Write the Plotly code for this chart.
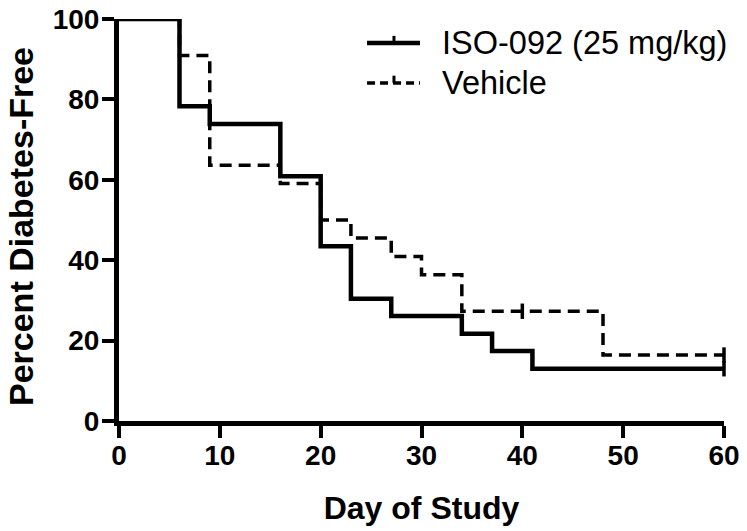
import plotly.graph_objects as go

# ---- data ----
iso_days = [0, 6, 9, 16, 20, 23, 27, 34, 37, 41, 60]
iso_surv = [100, 78.3, 73.9, 60.9, 43.5, 30.4, 26.1, 21.7, 17.4, 13.0, 13.0]
iso_cens_days = [60]
iso_cens_surv = [13.0]

veh_days = [0, 6, 9, 16, 20, 23, 27, 30, 34, 48, 60]
veh_surv = [100, 90.9, 63.6, 59.1, 50.0, 45.5, 40.9, 36.4, 27.3, 16.4, 16.4]
veh_cens_days = [40, 60]
veh_cens_surv = [27.3, 16.4]

x_ticks = [0, 10, 20, 30, 40, 50, 60]
y_ticks = [0, 20, 40, 60, 80, 100]
series_names = ["ISO-092 (25 mg/kg)", "Vehicle"]
x_title = "Day of Study"
y_title = "Percent Diabetes-Free"

FONT = "Liberation Sans, Arial, sans-serif"

fig = go.Figure()
fig.add_trace(go.Scatter(x=iso_days, y=iso_surv, mode="lines", line_shape="hv",
                         line=dict(color="black", width=4.5), cliponaxis=False,
                         showlegend=False, name=series_names[0]))
fig.add_trace(go.Scatter(x=veh_days, y=veh_surv, mode="lines", line_shape="hv",
                         line=dict(color="black", width=3.5, dash="12px,7px"), cliponaxis=False,
                         showlegend=False, name=series_names[1]))
fig.add_trace(go.Scatter(x=iso_cens_days, y=iso_cens_surv, mode="markers", cliponaxis=False,
                         marker=dict(symbol="line-ns", size=11, line=dict(color="black", width=3.5)),
                         showlegend=False))
fig.add_trace(go.Scatter(x=veh_cens_days, y=veh_cens_surv, mode="markers", cliponaxis=False,
                         marker=dict(symbol="line-ns", size=11, line=dict(color="black", width=3.5)),
                         showlegend=False))

# custom legend (paper coords)
legend_rows = [(0.940, "solid", 4.5), (0.841, "8px,5px", 3.5)]
for (yy, dash, w), name in zip(legend_rows, series_names):
    fig.add_shape(type="line", xref="paper", yref="paper", x0=0.410, x1=0.4975, y0=yy, y1=yy,
                  line=dict(color="black", width=w, dash=dash))
    fig.add_shape(type="line", xref="paper", yref="paper", x0=0.4545, x1=0.4545, y0=yy, y1=yy + 0.018,
                  line=dict(color="black", width=3))
    fig.add_annotation(x=0.5306, y=yy, xref="paper", yref="paper", text=name, showarrow=False,
                       xanchor="left", yanchor="middle",
                       font=dict(family=FONT, size=32.5, color="black"))

# y-axis title as a rotated annotation (placed freely in the left margin)
fig.add_annotation(x=-0.162, y=0.485, xref="paper", yref="paper", text=y_title, showarrow=False,
                   textangle=-90, xanchor="center", yanchor="middle",
                   font=dict(family=FONT, size=34, color="black", weight="bold"))

axis_common = dict(showline=True, linecolor="black", linewidth=5, ticks="outside", ticklen=12,
                   tickwidth=4, tickcolor="black", showgrid=False, zeroline=False,
                   ticklabeloverflow="allow",
                   tickfont=dict(family=FONT, size=28, color="black", weight="bold"))

fig.update_xaxes(range=[0, 60], tickvals=x_ticks, **axis_common, ticklabelstandoff=-7,
                 title=dict(text=x_title, standoff=29,
                            font=dict(family=FONT, size=32, color="black", weight="bold")))
fig.update_yaxes(range=[0, 100], tickvals=y_ticks, **axis_common, ticklabelstandoff=-3)

fig.update_layout(width=747, height=531, margin=dict(l=119, r=23, t=19, b=110, autoexpand=False),
                  plot_bgcolor="white", paper_bgcolor="white", showlegend=False)

# remove the browser's default 8px body margin so the figure fills the window exactly
fig.write_html("out.html", config={"displayModeBar": False},
               post_script="document.body.style.margin='0';document.body.style.overflow='hidden';")
